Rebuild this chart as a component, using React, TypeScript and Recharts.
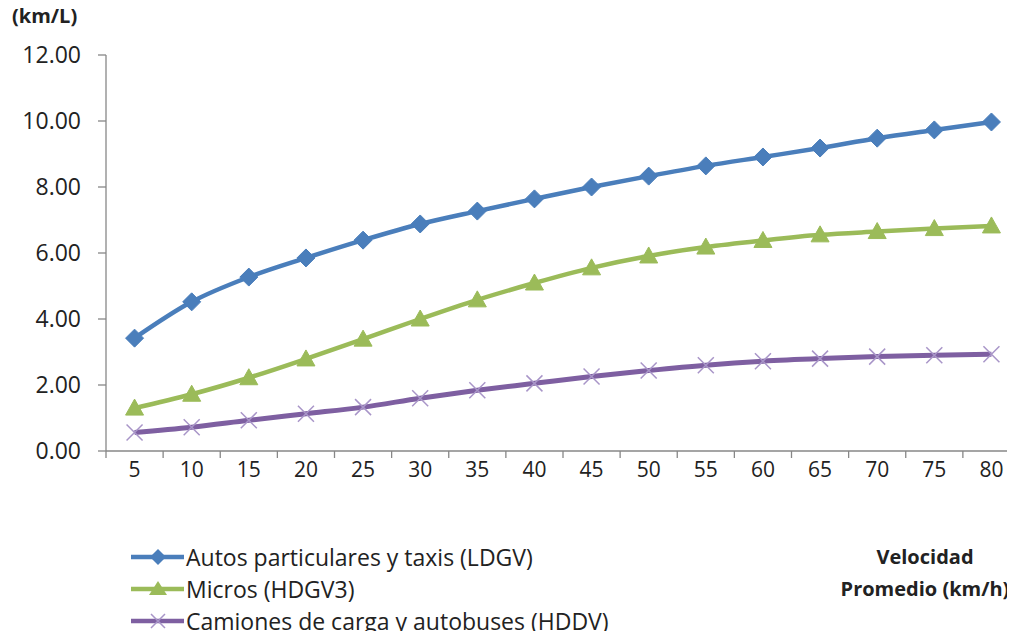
import React from "react";
import { LineChart, Line, XAxis, YAxis } from "recharts";

const speeds = [5, 10, 15, 20, 25, 30, 35, 40, 45, 50, 55, 60, 65, 70, 75, 80];
const ldgv = [3.42, 4.52, 5.27, 5.85, 6.39, 6.88, 7.27, 7.64, 8.0, 8.33, 8.64, 8.91, 9.18, 9.48, 9.73, 9.97];
const hdgv3 = [1.3, 1.72, 2.22, 2.79, 3.39, 4.0, 4.58, 5.09, 5.55, 5.91, 6.18, 6.38, 6.55, 6.65, 6.74, 6.82];
const hddv = [0.56, 0.72, 0.93, 1.13, 1.33, 1.6, 1.84, 2.05, 2.26, 2.44, 2.6, 2.72, 2.8, 2.86, 2.9, 2.93];
const yTicks = [0, 2, 4, 6, 8, 10, 12];
const seriesNames = [
  "Autos particulares y taxis (LDGV)",
  "Micros (HDGV3)",
  "Camiones de carga y autobuses (HDDV)",
];

const data = speeds.map((s, i) => ({ speed: s, ldgv: ldgv[i], hdgv3: hdgv3[i], hddv: hddv[i] }));
const boundaryTicks = [...speeds.map((s) => s - 2.5), speeds[speeds.length - 1] + 2.5];

const CHART_W = 1025;
const CHART_H = 639;
const Y_W = 106;
const M_RIGHT = 5;
const BAND = (CHART_W - Y_W - M_RIGHT) / speeds.length;

const BLUE = "#4A7EBB";
const GREEN = "#9BBB59";
const PURPLE = "#7E5FA1";
const LAV = "#A895C8";
const FONT = "'Open Sans', 'Noto Sans', sans-serif";

const Diamond = (props: any) => {
  const { cx, cy } = props;
  if (cx == null || cy == null) return null;
  const r = 9;
  return <path d={`M${cx},${cy - r}L${cx + r},${cy}L${cx},${cy + r}L${cx - r},${cy}Z`} fill={BLUE} stroke={BLUE} strokeWidth={1} />;
};
const Triangle = (props: any) => {
  const { cx, cy } = props;
  if (cx == null || cy == null) return null;
  const r = 9;
  return <path d={`M${cx},${cy - r}L${cx + r},${cy + 7}L${cx - r},${cy + 7}Z`} fill={GREEN} stroke={GREEN} strokeWidth={1} />;
};
const Cross = (props: any) => {
  const { cx, cy } = props;
  if (cx == null || cy == null) return null;
  const r = 8;
  return (
    <path d={`M${cx - r},${cy - r}L${cx + r},${cy + r}M${cx - r},${cy + r}L${cx + r},${cy - r}`} stroke={LAV} strokeWidth={1.5} fill="none" />
  );
};

const XTick = (props: any) => {
  const { x, y, payload } = props;
  const v = payload.value + 2.5;
  if (v > speeds[speeds.length - 1]) return null;
  return (
    <text x={x + BAND / 2} y={y + 9} textAnchor="middle" dominantBaseline="central" fontSize={21} fill="#222" fontFamily={FONT}>
      {v}
    </text>
  );
};

const legendMarkers = [
  (x: number, y: number) => <path d={`M${x},${y - 8}L${x + 8},${y}L${x},${y + 8}L${x - 8},${y}Z`} fill={BLUE} />,
  (x: number, y: number) => <path d={`M${x},${y - 8}L${x + 9},${y + 6}L${x - 9},${y + 6}Z`} fill={GREEN} />,
  (x: number, y: number) => (
    <path d={`M${x - 7},${y - 7}L${x + 7},${y + 7}M${x - 7},${y + 7}L${x + 7},${y - 7}`} stroke={LAV} strokeWidth={1.5} />
  ),
];
const legendColors = [BLUE, GREEN, PURPLE];

export default function App() {
  return (
    <div style={{ position: "relative", width: 1015, height: 639, margin: -8, overflow: "hidden", background: "#fff" }}>
      <LineChart width={CHART_W} height={CHART_H} data={data} margin={{ top: 55, right: M_RIGHT, bottom: 148, left: 0 }}>
        <XAxis
          dataKey="speed"
          type="number"
          domain={[2.5, 82.5]}
          ticks={boundaryTicks}
          interval={0}
          tick={<XTick />}
          tickSize={7}
          axisLine={{ stroke: "#878787", strokeWidth: 1.3 }}
          tickLine={{ stroke: "#878787", strokeWidth: 1.3 }}
          height={40}
        />
        <YAxis
          width={Y_W}
          domain={[0, 12]}
          ticks={yTicks}
          interval={0}
          tickFormatter={(v: number) => v.toFixed(2)}
          tick={{ fontSize: 23, fill: "#222", fontFamily: FONT }}
          tickSize={8}
          tickMargin={17}
          axisLine={{ stroke: "#878787", strokeWidth: 1.3 }}
          tickLine={{ stroke: "#878787", strokeWidth: 1.3 }}
        />
        <Line type="monotone" dataKey="hddv" name={seriesNames[2]} stroke={PURPLE} strokeWidth={5} dot={<Cross />} activeDot={false} isAnimationActive={false} />
        <Line type="monotone" dataKey="hdgv3" name={seriesNames[1]} stroke={GREEN} strokeWidth={4.5} dot={<Triangle />} activeDot={false} isAnimationActive={false} />
        <Line type="monotone" dataKey="ldgv" name={seriesNames[0]} stroke={BLUE} strokeWidth={4.5} dot={<Diamond />} activeDot={false} isAnimationActive={false} />
      </LineChart>
      <div style={{ position: "absolute", left: 130, top: 541, fontFamily: FONT, fontSize: 23, color: "#222" }}>
        {seriesNames.map((n, i) => (
          <div key={n} style={{ display: "flex", alignItems: "center", height: 32, whiteSpace: "nowrap" }}>
            <svg width={56} height={32} style={{ display: "block" }}>
              <line x1={1} y1={16} x2={54} y2={16} stroke={legendColors[i]} strokeWidth={4.5} />
              {legendMarkers[i](28, 16)}
            </svg>
            <span>{n}</span>
          </div>
        ))}
      </div>
      <div style={{ position: "absolute", left: 12, top: 2, fontFamily: FONT, fontWeight: 700, fontSize: 20, color: "#222" }}>(km/L)</div>
      <div
        style={{
          position: "absolute",
          left: 825,
          top: 541,
          width: 200,
          textAlign: "center",
          fontFamily: FONT,
          fontWeight: 700,
          fontSize: 20,
          color: "#222",
          lineHeight: "32px",
        }}
      >
        Velocidad
        <br />
        Promedio (km/h)
      </div>
    </div>
  );
}
